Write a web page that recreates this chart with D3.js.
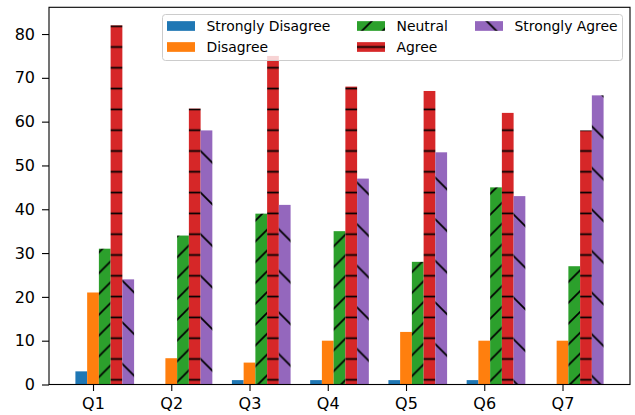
<!DOCTYPE html>
<html>
<head>
<meta charset="utf-8">
<script src="https://cdn.jsdelivr.net/npm/d3@7"></script>
<style>
  body { margin: 0; background: #fff; }
  text { font-family: 'DejaVu Sans', sans-serif; }
</style>
</head>
<body>
<div class="canvas"></div>
<script>
/*--------------------------------
  DATA
--------------------------------*/
const categories = ['Q1', 'Q2', 'Q3', 'Q4', 'Q5', 'Q6', 'Q7'];
const seriesNames = ['Strongly Disagree', 'Disagree', 'Neutral', 'Agree', 'Strongly Agree'];
const stronglyDisagree = [3, 0, 1, 1, 1, 1, 0];
const disagree = [21, 6, 5, 10, 12, 10, 10];
const neutral = [31, 34, 39, 35, 28, 45, 27];
const agree = [82, 63, 75, 68, 67, 62, 58];
const stronglyAgree = [24, 58, 41, 47, 53, 43, 66];
const yTicks = [0, 10, 20, 30, 40, 50, 60, 70, 80];

const seriesValues = [stronglyDisagree, disagree, neutral, agree, stronglyAgree];

/*--------------------------------
  SETUP
--------------------------------*/
const width = 635;
const height = 415;
const margin = {
  top: 7.3, right: 5, bottom: 30.5, left: 49,
};
const barWidth = 0.15;

// colours and hatches per series (matplotlib tab10)
const colors = ['#1f77b4', '#ff7f0e', '#2ca02c', '#d62728', '#9467bd'];
const hatches = [null, null, 'slash', 'dash', 'backslash'];

const svg = d3.select('.canvas')
  .append('svg')
  .attr('width', width)
  .attr('height', height);

const x = d3.scaleLinear()
  .domain([-0.4125, 7.0125])
  .range([margin.left, width - margin.right]);

const y = d3.scaleLinear()
  .domain([0, 86.1])
  .range([height - margin.bottom, margin.top]);

// hatch patterns, anchored to page coordinates
const defs = svg.append('defs');
const hatchStroke = 1.7;

const addPattern = (id, color, kind) => {
  const p = kind === 'backslash' ? 41.6 : 20.8;
  const offset = { slash: [18.4, 0], backslash: [8, 0], dash: [0, -5] }[kind];
  const pat = defs.append('pattern')
    .attr('id', id)
    .attr('patternUnits', 'userSpaceOnUse')
    .attr('x', offset[0])
    .attr('y', offset[1])
    .attr('width', p)
    .attr('height', p);
  pat.append('rect').attr('width', p).attr('height', p).attr('fill', color);
  let lines = [];
  if (kind === 'slash') {
    lines = [[0, p, p, 0], [-2, 2, 2, -2], [p - 2, p + 2, p + 2, p - 2]];
  } else if (kind === 'backslash') {
    lines = [[0, 0, p, p], [-2, p - 2, 2, p + 2], [p - 2, -2, p + 2, 2]];
  } else {
    lines = [[0, p / 2, p, p / 2]];
  }
  lines.forEach((l) => {
    pat.append('line')
      .attr('x1', l[0]).attr('y1', l[1])
      .attr('x2', l[2]).attr('y2', l[3])
      .attr('stroke', '#000')
      .attr('stroke-width', hatchStroke);
  });
};

const fillFor = (i) => {
  if (!hatches[i]) return colors[i];
  return `url(#hatch${i})`;
};

hatches.forEach((h, i) => {
  if (h) addPattern(`hatch${i}`, colors[i], h);
});

/*--------------------------------
  BARS
--------------------------------*/
const bw = x(barWidth) - x(0);

seriesValues.forEach((values, s) => {
  svg.append('g')
    .selectAll('rect')
    .data(values)
    .enter()
    .append('rect')
    .attr('x', (d, i) => x(i + s * barWidth - barWidth / 2))
    .attr('width', bw)
    .attr('y', d => y(d))
    .attr('height', d => y(0) - y(d))
    .attr('fill', fillFor(s));
});

/*--------------------------------
  AXES
--------------------------------*/
const xAxis = d3.axisBottom(x)
  .tickValues(categories.map((c, i) => i + barWidth))
  .tickFormat((d, i) => categories[i])
  .tickSize(6.5)
  .tickPadding(7);

const yAxis = d3.axisLeft(y)
  .tickValues(yTicks)
  .tickSize(7)
  .tickPadding(7);

const xAxisGroup = svg.append('g')
  .attr('transform', `translate(0, ${y(0)})`)
  .call(xAxis);
const yAxisGroup = svg.append('g')
  .attr('transform', `translate(${margin.left}, 0)`)
  .call(yAxis);

[xAxisGroup, yAxisGroup].forEach((g) => {
  g.select('.domain').remove();
  g.selectAll('line').attr('stroke', '#000').attr('stroke-width', 1.1);
  g.selectAll('text')
    .attr('fill', '#000')
    .style('font-size', '16px')
    .style('font-family', "'DejaVu Sans', sans-serif");
});

// frame
svg.append('rect')
  .attr('x', margin.left)
  .attr('y', margin.top)
  .attr('width', width - margin.right - margin.left)
  .attr('height', y(0) - margin.top)
  .attr('fill', 'none')
  .attr('stroke', '#000')
  .attr('stroke-width', 1.1);

/*--------------------------------
  LEGEND
--------------------------------*/
const legend = svg.append('g');
legend.append('rect')
  .attr('x', 162.5)
  .attr('y', 14.5)
  .attr('width', 460)
  .attr('height', 46)
  .attr('rx', 3)
  .attr('fill', '#fff')
  .attr('fill-opacity', 0.8)
  .attr('stroke', '#cccccc')
  .attr('stroke-width', 1);

const colX = [167, 357, 475];
const rowY = [26, 47];

seriesNames.forEach((name, i) => {
  const cx = colX[Math.floor(i / 2)];
  const cy = rowY[i % 2];
  legend.append('rect')
    .attr('x', cx)
    .attr('y', cy - 4.85)
    .attr('width', 28)
    .attr('height', 9.7)
    .attr('fill', fillFor(i));
  legend.append('text')
    .attr('x', cx + 39.5)
    .attr('y', cy + 5)
    .style('font-size', '13.9px')
    .attr('fill', '#000')
    .text(name);
});
</script>
</body>
</html>
